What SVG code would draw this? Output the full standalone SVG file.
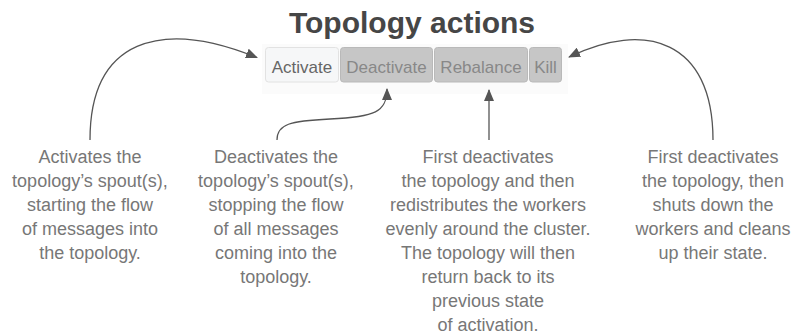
<svg xmlns="http://www.w3.org/2000/svg" width="795" height="334" viewBox="0 0 795 334">
<defs>
<marker id="ah" viewBox="0 0 12 10" refX="11" refY="5" markerWidth="12" markerHeight="10" markerUnits="userSpaceOnUse" orient="auto">
<path d="M0,0 L12,5 L0,10 z" fill="#555"/>
</marker>
<style>
.title{font-family:"Liberation Sans",Arial,sans-serif;font-weight:bold;font-size:30px;fill:#464646;text-anchor:middle}
.btn-on{fill:#f6f7f8;stroke:#e2e2e2;stroke-width:1}
.btn-off{fill:#c6c6c6;stroke:#b9b9b9;stroke-width:1}
.btxt{font-family:"Liberation Sans",Arial,sans-serif;font-size:17px;text-anchor:middle}
.desc{font-family:"Liberation Sans",Arial,sans-serif;font-size:18px;fill:#777;text-anchor:middle}
.conn{fill:none;stroke:#555;stroke-width:1.3;marker-end:url(#ah)}
</style>
</defs>
<rect width="795" height="334" fill="#fff"/>
<text class="title" x="412" y="33">Topology actions</text>
<rect x="262" y="44" width="306" height="50" fill="#fbfbfb"/>
<g id="activate">
<rect class="btn-on" x="265.5" y="47.5" width="73" height="34.5" rx="3"/>
<text class="btxt" x="302" y="72.5" fill="#666">Activate</text>
</g>
<g id="deactivate">
<rect class="btn-off" x="340.5" y="47.5" width="92" height="34.5" rx="3"/>
<text class="btxt" x="386.5" y="72.5" fill="#888">Deactivate</text>
</g>
<g id="rebalance">
<rect class="btn-off" x="434.5" y="47.5" width="93" height="34.5" rx="3"/>
<text class="btxt" x="481" y="72.5" fill="#888">Rebalance</text>
</g>
<g id="kill">
<rect class="btn-off" x="529.5" y="47.5" width="32" height="34.5" rx="3"/>
<text class="btxt" x="545.5" y="72.5" fill="#888">Kill</text>
</g>
<g id="connectors">
<path class="conn" d="M90,140 C90,40 160,18 257,57.5"/>
<path class="conn" d="M277,140 C277,124 290,121 330,119 C375,117 387,112 387,89"/>
<path class="conn" d="M489,140 L489,90"/>
<path class="conn" d="M713,140 C713,40 645,20 569,57"/>
</g>
<g id="desc-activate">
<text class="desc" x="90" y="163">Activates the</text>
<text class="desc" x="90" y="187">topology’s spout(s),</text>
<text class="desc" x="90" y="211">starting the flow</text>
<text class="desc" x="90" y="235">of messages into</text>
<text class="desc" x="90" y="259">the topology.</text>
</g>
<g id="desc-deactivate">
<text class="desc" x="276" y="163">Deactivates the</text>
<text class="desc" x="276" y="187">topology’s spout(s),</text>
<text class="desc" x="276" y="211">stopping the flow</text>
<text class="desc" x="276" y="235">of all messages</text>
<text class="desc" x="276" y="259">coming into the</text>
<text class="desc" x="276" y="283">topology.</text>
</g>
<g id="desc-rebalance">
<text class="desc" x="488" y="163">First deactivates</text>
<text class="desc" x="488" y="187">the topology and then</text>
<text class="desc" x="488" y="211">redistributes the workers</text>
<text class="desc" x="488" y="235">evenly around the cluster.</text>
<text class="desc" x="488" y="259">The topology will then</text>
<text class="desc" x="488" y="283">return back to its</text>
<text class="desc" x="488" y="307">previous state</text>
<text class="desc" x="488" y="331">of activation.</text>
</g>
<g id="desc-kill">
<text class="desc" x="713" y="163">First deactivates</text>
<text class="desc" x="713" y="187">the topology, then</text>
<text class="desc" x="713" y="211">shuts down the</text>
<text class="desc" x="713" y="235">workers and cleans</text>
<text class="desc" x="713" y="259">up their state.</text>
</g>
</svg>
